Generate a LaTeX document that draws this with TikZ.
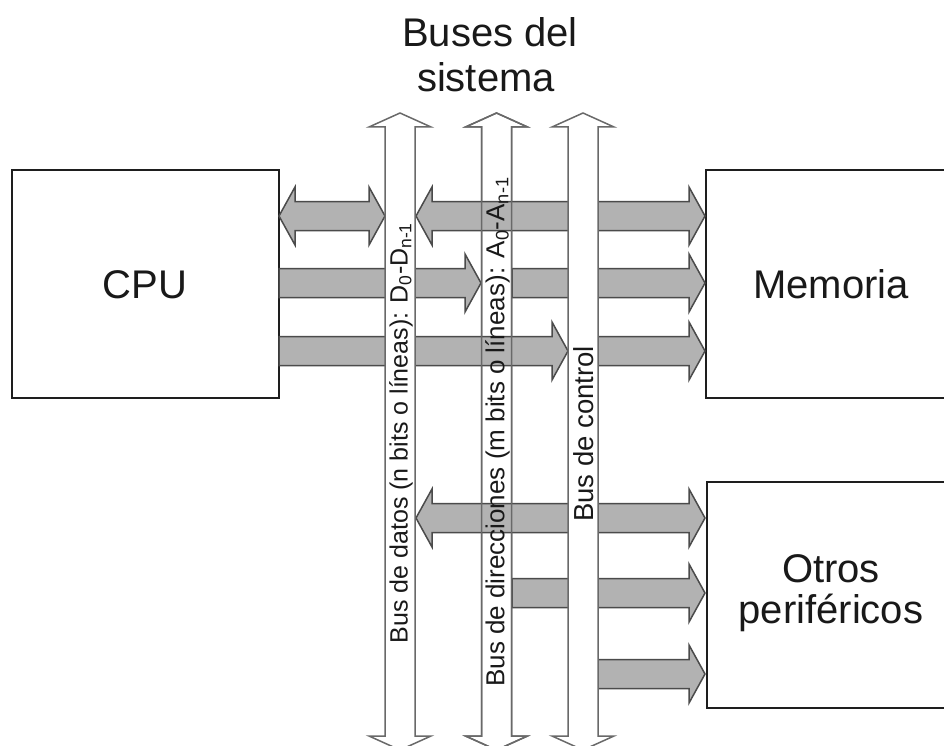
\documentclass[tikz,border=0pt]{standalone}
\usepackage{fontspec}
\setmainfont{Liberation Sans}
\definecolor{bandfill}{RGB}{178,178,178}
\definecolor{bandline}{RGB}{75,75,75}
\definecolor{busline}{RGB}{105,105,105}
\definecolor{boxline}{RGB}{30,30,30}
\definecolor{txt}{RGB}{25,25,25}
\tikzset{
  band/.style={fill=bandfill, draw=bandline, line width=1.5pt, line join=miter},
  busfill/.style={fill=white, draw=busline, line width=1.5pt, line join=miter},
  busout/.style={draw=busline, line width=1.5pt, line join=miter},
  blockbox/.style={draw=boxline, line width=1.7pt, fill=white, rectangle, inner sep=0pt},
  bigtext/.style={text=txt, font=\fontsize{40}{45}\selectfont, inner sep=0pt},
  bustext/.style={text=txt, font=\fontsize{25}{30}\selectfont, inner sep=0pt, rotate=90},
}
% right-pointing band: flat end at #1, tip at #2, centre line #3
\newcommand\rBand[3]{\draw[band] (#1,{#3-14.5}) -- ({#2-16},{#3-14.5}) -- ({#2-16},{#3-29}) -- (#2,#3) -- ({#2-16},{#3+29}) -- ({#2-16},{#3+14.5}) -- (#1,{#3+14.5}) -- cycle;}
% double-headed band: tips at #1 and #2
\newcommand\dBand[3]{\draw[band] (#1,#3) -- ({#1+16},{#3-29}) -- ({#1+16},{#3-14.5}) -- ({#2-16},{#3-14.5}) -- ({#2-16},{#3-29}) -- (#2,#3) -- ({#2-16},{#3+29}) -- ({#2-16},{#3+14.5}) -- ({#1+16},{#3+14.5}) -- ({#1+16},{#3+29}) -- cycle;}
% vertical hollow bus arrow centred at x=#1, style #2
\newcommand\vBus[2]{\path[#2] ({#1-15},127) -- ({#1-31},127) -- (#1,113) -- ({#1+31},127) -- ({#1+15},127) -- ({#1+15},736) -- ({#1+31},736) -- (#1,750) -- ({#1-31},736) -- ({#1-15},736) -- cycle;}
\begin{document}
\begin{tikzpicture}[x=1pt,y=-1pt]
\useasboundingbox (0,0) rectangle (944,746);
\clip (0,0) rectangle (944,746);
\fill[white] (0,0) rectangle (944,746);

% blocks
\node[blockbox, minimum width=267pt, minimum height=228pt] (cpu) at (145.5,284) {};
\node[blockbox, minimum width=250pt, minimum height=228pt] (mem) at (831,284) {};
\node[blockbox, minimum width=250pt, minimum height=226pt] (per) at (832,595) {};

% address bus (under the bands)
\vBus{496.5}{busfill}

% bands towards memory
\dBand{279}{385}{216}
\dBand{416}{705}{216}
\rBand{279}{481}{283}
\rBand{512}{705}{283}
\rBand{279}{568}{351}
\rBand{598}{705}{351}
% bands towards peripherals
\dBand{416}{705}{518}
\rBand{512}{705}{593}
\rBand{598}{705}{674}

% address bus outline on top
\vBus{496.5}{busout}
% data and control buses on top
\vBus{400}{busfill}
\vBus{583}{busfill}

% texts
\node[bigtext, anchor=base] (t1) at (490,47) {Buses del};
\node[bigtext, anchor=base] (t2) at (486,92) {sistema};
\node[bigtext, anchor=base] (tcpu) at (145,298) {CPU};
\node[bigtext, anchor=base] (tmem) at (831,298) {Memoria};
\node[bigtext, anchor=base] (tper1) at (831,582) {Otros};
\node[bigtext, anchor=base] (tper2) at (831,623) {periféricos};

\node[bustext] (tdat) at (401,433) {Bus de datos (n bits o líneas): D\textsubscript{0}-D\textsubscript{n-1}};
\node[bustext, font=\fontsize{26}{30}\selectfont] (tdir) at (497.5,432) {Bus de direcciones (m bits o líneas): A\textsubscript{0}-A\textsubscript{n-1}};
\node[bustext, font=\fontsize{27.5}{30}\selectfont] (tctl) at (584,434) {Bus de control};
\end{tikzpicture}
\end{document}
